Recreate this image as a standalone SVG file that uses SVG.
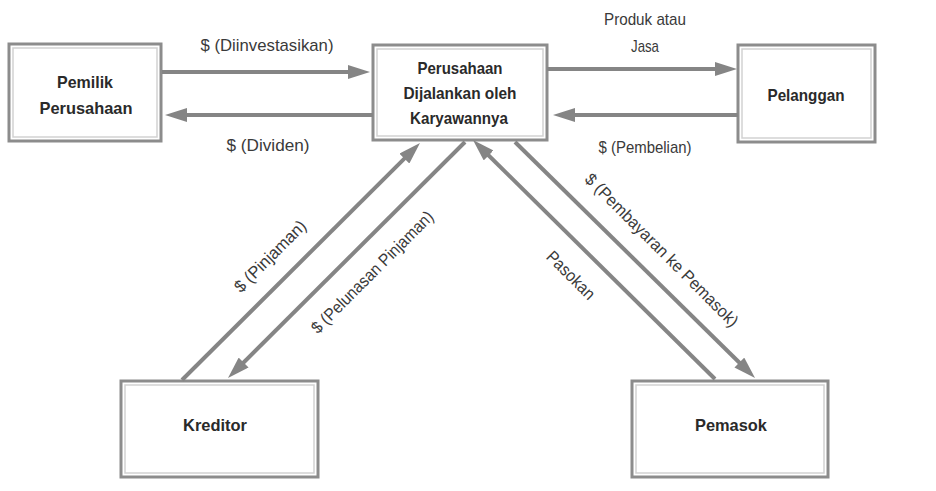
<svg xmlns="http://www.w3.org/2000/svg" width="936" height="491" viewBox="0 0 936 491">
<style>
.outer{fill:#fff;stroke:#8c8c8c;stroke-width:3}
.inner{fill:none;stroke:#d2d2d2;stroke-width:1.5}
.nl{font-family:"Liberation Sans",Arial,sans-serif;font-weight:bold;font-size:17px;fill:#2a2a2a;text-anchor:middle}
.el{font-family:"Liberation Sans",Arial,sans-serif;font-size:17px;fill:#3a3a3a;text-anchor:middle}
.ar{stroke:#858585;stroke-width:4;fill:none;marker-end:url(#ah)}
</style>
<defs>
<marker id="ah" markerUnits="userSpaceOnUse" markerWidth="24" markerHeight="14" viewBox="0 0 24 14" refX="12" refY="7" orient="auto">
<path d="M0,0 L22,7 L0,14 z" fill="#858585"/>
</marker>
</defs>
<rect width="936" height="491" fill="#fff"/>
<g id="pemilik">
<rect class="outer" x="9" y="44" width="152" height="97"/>
<rect class="inner" x="13" y="48" width="144" height="89"/>
<text class="nl" x="85" y="88" textLength="56" lengthAdjust="spacingAndGlyphs">Pemilik</text>
<text class="nl" x="86" y="114" textLength="93" lengthAdjust="spacingAndGlyphs">Perusahaan</text>
</g>
<g id="perusahaan">
<rect class="outer" x="373" y="45" width="174" height="95"/>
<rect class="inner" x="377" y="49" width="166" height="87"/>
<text class="nl" x="460" y="74" textLength="85" lengthAdjust="spacingAndGlyphs">Perusahaan</text>
<text class="nl" x="460" y="99" textLength="113" lengthAdjust="spacingAndGlyphs">Dijalankan oleh</text>
<text class="nl" x="459" y="124" textLength="98" lengthAdjust="spacingAndGlyphs">Karyawannya</text>
</g>
<g id="pelanggan">
<rect class="outer" x="738" y="45" width="137" height="97"/>
<rect class="inner" x="742" y="49" width="129" height="89"/>
<text class="nl" x="806" y="101" textLength="77" lengthAdjust="spacingAndGlyphs">Pelanggan</text>
</g>
<g id="kreditor">
<rect class="outer" x="121" y="381" width="197" height="96"/>
<rect class="inner" x="125" y="385" width="189" height="88"/>
<text class="nl" x="215" y="431" textLength="64" lengthAdjust="spacingAndGlyphs">Kreditor</text>
</g>
<g id="pemasok">
<rect class="outer" x="632" y="381" width="196" height="96"/>
<rect class="inner" x="636" y="385" width="188" height="88"/>
<text class="nl" x="731" y="431" textLength="72" lengthAdjust="spacingAndGlyphs">Pemasok</text>
</g>
<g id="connectors">
<line class="ar" x1="162" y1="72" x2="360" y2="72"/>
<line class="ar" x1="373" y1="115" x2="175" y2="115"/>
<line class="ar" x1="547" y1="69" x2="727" y2="69"/>
<line class="ar" x1="738" y1="115" x2="563" y2="115"/>
<line class="ar" x1="182" y1="380" x2="412.9" y2="150.1"/>
<line class="ar" x1="465" y1="142" x2="235.1" y2="371"/>
<line class="ar" x1="715" y1="379" x2="480.1" y2="147"/>
<line class="ar" x1="515" y1="142" x2="747.9" y2="371"/>
<text class="el" x="267" y="51" textLength="133" lengthAdjust="spacingAndGlyphs">$ (Diinvestasikan)</text>
<text class="el" x="268" y="151" textLength="83" lengthAdjust="spacingAndGlyphs">$ (Dividen)</text>
<text class="el" x="645" y="25" textLength="82" lengthAdjust="spacingAndGlyphs">Produk atau</text>
<text class="el" x="645" y="52" textLength="28" lengthAdjust="spacingAndGlyphs">Jasa</text>
<text class="el" x="645" y="153" textLength="93" lengthAdjust="spacingAndGlyphs">$ (Pembelian)</text>
<text class="el" transform="translate(270,256) rotate(-45)" x="0" y="6" textLength="94" lengthAdjust="spacingAndGlyphs">$ (Pinjaman)</text>
<text class="el" transform="translate(372,272) rotate(-45)" x="0" y="6" textLength="165" lengthAdjust="spacingAndGlyphs">$ (Pelunasan Pinjaman)</text>
<text class="el" transform="translate(571,275) rotate(45)" x="0" y="6" textLength="61" lengthAdjust="spacingAndGlyphs">Pasokan</text>
<text class="el" transform="translate(662,250) rotate(45)" x="0" y="6" textLength="209" lengthAdjust="spacingAndGlyphs">$ (Pembayaran ke Pemasok)</text>
</g>
</svg>
